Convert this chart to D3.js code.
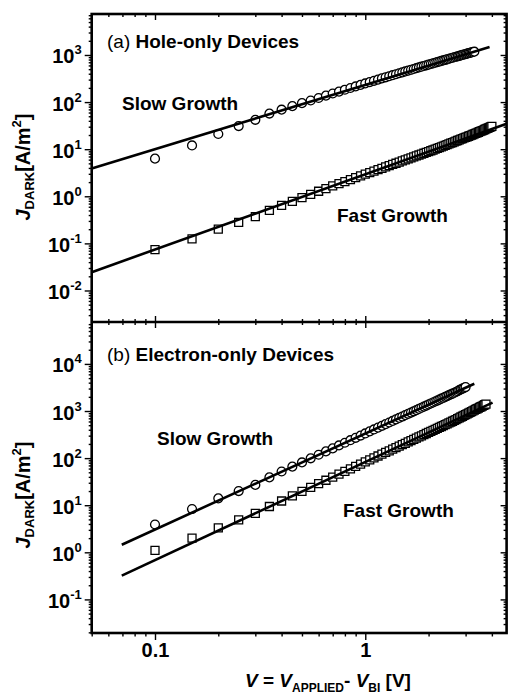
<!DOCTYPE html>
<html>
<head>
<meta charset="utf-8">
<script src="https://cdn.jsdelivr.net/npm/d3@7"></script>
<style>
  body { margin: 0; background: #fff; }
  text { font-family: Arial, "Liberation Sans", sans-serif; font-weight: bold; fill: #000; }
</style>
</head>
<body>
<script>
// bias voltage grid (V = Vapplied - Vbi)
var vGrid = [0.10,0.15,0.20,0.25,0.30,0.35,0.40,0.45,0.50,0.55,0.60,0.65,0.70,0.75,0.80,0.85,0.90,0.95,
  1.00,1.05,1.10,1.15,1.20,1.25,1.30,1.35,1.40,1.45,1.50,1.55,1.60,1.65,1.70,1.75,1.80,1.85,1.90,1.95,
  2.00,2.05,2.10,2.15,2.20,2.25,2.30,2.35,2.40,2.45,2.50,2.55,2.60,2.65,2.70,2.75,2.80,2.85,2.90,2.95,
  3.00,3.05,3.10,3.15,3.20,3.25,3.30,3.35,3.40,3.45,3.50,3.55,3.60,3.65,3.70,3.75,3.80,3.85,3.90,3.95,4.00];

// (a) hole-only, slow growth (circles), A/m^2
var jHoleSlow = [6.3,12,21,31,42,57,69,82,95,108,122,137,152,167,183,199,215,232,
  249,266,283,300,318,336,354,372,390,409,428,447,466,485,504,524,544,564,584,604,
  624,644,664,684,705,726,747,768,789,810,831,852,874,895,916,937,959,980,1002,1024,
  1046,1068,1090,1112,1134,1156,1175];
// (a) hole-only, fast growth (squares)
var jHoleFast = [0.074,0.125,0.20,0.28,0.37,0.50,0.64,0.78,0.94,1.10,1.28,1.46,1.66,1.85,2.05,2.26,2.48,2.70,
  2.94,3.17,3.42,3.67,3.93,4.20,4.47,4.75,5.03,5.32,5.62,5.92,6.23,6.54,6.86,7.19,7.52,7.86,8.20,8.55,
  8.90,9.26,9.62,9.99,10.4,10.8,11.2,11.6,12.0,12.5,12.9,13.4,13.8,14.3,14.8,15.3,15.8,16.3,16.8,17.3,
  17.8,18.3,18.8,19.4,19.9,20.5,21.1,21.7,22.3,22.9,23.5,24.2,24.8,25.5,26.2,26.9,27.6,28.3,29.1,29.8,30.6];
// (b) electron-only, slow growth (circles)
var jElecSlow = [3.9,8.3,14,20,27,39,52,66,81,99,118,139,161,186,212,240,270,301,
  334,369,406,444,485,527,571,616,664,713,764,817,872,928,986,1046,1109,1173,1238,1305,
  1374,1446,1518,1593,1669,1748,1828,1910,1994,2080,2167,2256,2348,2440,2536,2632,2780,2890,3000,3110,
  3230];
// (b) electron-only, fast growth (squares)
var jElecFast = [1.1,2.0,3.3,4.9,6.7,9.4,12.3,15.8,19.6,23.9,28.7,33.9,39.5,45.6,52.2,59.2,66.7,74.6,
  83,91.9,101,111,121,132,143,155,167,180,193,206,221,235,250,266,282,298,315,333,
  351,369,388,408,428,448,469,491,513,535,558,582,606,630,655,690,718,746,775,806,
  840,872,905,938,972,1007,1043,1080,1117,1154,1194,1233,1274,1315,1358,1400];

// fitted power-law lines, two ends each
var fitHoleSlowV = [0.05, 3.9],    fitHoleSlowJ = [3.9, 1480];
var fitHoleFastV = [0.05, 4.7],    fitHoleFastJ = [0.0245, 34.7];
var fitElecSlowV = [0.0695, 3.3],  fitElecSlowJ = [1.45, 3800];
var fitElecFastV = [0.0695, 4.03], fitElecFastJ = [0.32, 1510];

var xMajor = [0.1, 1];
var xMinor = [0.05,0.06,0.07,0.08,0.09,0.2,0.3,0.4,0.5,0.6,0.7,0.8,0.9,2,3,4];
var xLabels = ["0.1", "1"];
var yMajorA = [-2,-1,0,1,2,3];
var yMajorB = [-1,0,1,2,3,4];

var W = 512, H = 696;
var L = 91.7, R = 506.6, T = 14, MID = 322, B = 633;

var svg = d3.select("body").append("svg")
    .attr("width", W)
    .attr("height", H);

var x = d3.scaleLog().domain([0.05, 4.7]).range([L, R]);

function minorsFor(domain) {
  var out = [];
  for (var e = -4; e <= 6; e++)
    for (var m = 2; m <= 9; m++) {
      var v = m * Math.pow(10, e);
      if (v > domain[0] && v < domain[1]) out.push(v);
    }
  return out;
}

function tickStyle(g) {
  g.select(".domain").remove();
  g.selectAll(".tick line").attr("stroke", "#000").attr("stroke-width", 1.4);
}

function panel(top, bottom, domain, majors, series, fits, texts) {
  var y = d3.scaleLog().domain(domain).range([bottom, top]);
  var majorVals = majors.map(function(e) { return Math.pow(10, e); });
  var minorVals = minorsFor(domain);

  // left axis (ticks out) with 10^n labels
  svg.append("g").attr("transform", "translate(" + L + ",0)")
    .call(d3.axisLeft(y).tickValues(minorVals).tickSize(3).tickFormat("")).call(tickStyle);
  var la = svg.append("g").attr("transform", "translate(" + L + ",0)")
    .call(d3.axisLeft(y).tickValues(majorVals).tickSize(7).tickFormat("")).call(tickStyle);
  la.selectAll(".tick").append("text")
    .attr("x", -10).attr("y", 8)
    .attr("text-anchor", "end")
    .style("font-size", "20px")
    .each(function(d) {
      var t = d3.select(this);
      t.append("tspan").text("10");
      t.append("tspan").attr("dy", -9).style("font-size", "13px")
        .text(String(Math.round(Math.log10(d))));
    });

  // right axis (ticks in)
  svg.append("g").attr("transform", "translate(" + R + ",0)")
    .call(d3.axisRight(y).tickValues(minorVals).tickSize(-3).tickFormat("")).call(tickStyle);
  svg.append("g").attr("transform", "translate(" + R + ",0)")
    .call(d3.axisRight(y).tickValues(majorVals).tickSize(-6).tickFormat("")).call(tickStyle);

  var sym = { circle: d3.symbol(d3.symbolCircle, 62), square: d3.symbol(d3.symbolSquare, 64) };
  series.forEach(function(s) {
    var pts = d3.zip(s.v, s.j);
    svg.append("g").selectAll("path").data(pts).enter().append("path")
      .attr("transform", function(d) { return "translate(" + x(d[0]) + "," + y(d[1]) + ")"; })
      .attr("d", sym[s.shape])
      .attr("fill", "#fff")
      .attr("stroke", "#000")
      .attr("stroke-width", 1.3);
  });

  var line = d3.line().x(function(d) { return x(d[0]); }).y(function(d) { return y(d[1]); });
  fits.forEach(function(f) {
    svg.append("path")
      .attr("d", line(d3.zip(f.v, f.j)))
      .attr("fill", "none")
      .attr("stroke", "#000")
      .attr("stroke-width", 2.6);
  });

  texts.forEach(function(t) {
    var el = svg.append("text").attr("x", t.x).attr("y", t.y).style("font-size", "19px");
    if (t.pre) el.append("tspan").style("font-weight", "normal").text(t.pre);
    el.append("tspan").text(t.s);
  });
  return y;
}

panel(T, MID, [Math.pow(10, -2.669), Math.pow(10, 3.870)], yMajorA,
  [{ v: vGrid.slice(0, jHoleSlow.length), j: jHoleSlow, shape: "circle" },
   { v: vGrid.slice(0, jHoleFast.length), j: jHoleFast, shape: "square" }],
  [{ v: fitHoleSlowV, j: fitHoleSlowJ }, { v: fitHoleFastV, j: fitHoleFastJ }],
  [{ x: 107, y: 48, pre: "(a) ", s: "Hole-only Devices" },
   { x: 122, y: 110, s: "Slow Growth" },
   { x: 337, y: 222, s: "Fast Growth" }]);

panel(MID, B, [Math.pow(10, -1.713), Math.pow(10, 4.890)], yMajorB,
  [{ v: vGrid.slice(0, jElecSlow.length), j: jElecSlow, shape: "circle" },
   { v: vGrid.slice(0, jElecFast.length), j: jElecFast, shape: "square" }],
  [{ v: fitElecSlowV, j: fitElecSlowJ }, { v: fitElecFastV, j: fitElecFastJ }],
  [{ x: 107, y: 361, pre: "(b) ", s: "Electron-only Devices" },
   { x: 157, y: 445, s: "Slow Growth" },
   { x: 343, y: 517, s: "Fast Growth" }]);

// x axes: top (in), middle (both ways), bottom (out, labelled)
function xAxis(gen, yPos, majorLen, minorLen) {
  svg.append("g").attr("transform", "translate(0," + yPos + ")")
    .call(gen(x).tickValues(xMinor).tickSize(minorLen).tickFormat("")).call(tickStyle);
  return svg.append("g").attr("transform", "translate(0," + yPos + ")")
    .call(gen(x).tickValues(xMajor).tickSize(majorLen).tickFormat("")).call(tickStyle);
}
xAxis(d3.axisTop, T, -6, -3);
xAxis(d3.axisTop, MID, 6, 3);
xAxis(d3.axisBottom, MID, 6, 3);
var bx = xAxis(d3.axisBottom, B, 7, 3.5);
bx.selectAll(".tick").append("text")
  .attr("y", 24).attr("text-anchor", "middle")
  .style("font-size", "20px")
  .text(function(d, i) { return xLabels[i]; });

// frame
svg.append("rect").attr("x", L).attr("y", T).attr("width", R - L).attr("height", B - T)
  .attr("fill", "none").attr("stroke", "#000").attr("stroke-width", 2.6);
svg.append("line").attr("x1", L).attr("x2", R).attr("y1", MID).attr("y2", MID)
  .attr("stroke", "#000").attr("stroke-width", 2.6);

// y titles
[167, 495].forEach(function(cy) {
  var t = svg.append("text")
    .attr("transform", "translate(30," + cy + ") rotate(-90)")
    .attr("text-anchor", "middle")
    .style("font-size", "20px");
  t.append("tspan").style("font-style", "italic").text("J");
  t.append("tspan").attr("dy", 4).style("font-size", "13px").text("DARK");
  t.append("tspan").attr("dy", -4).text("[A/m");
  t.append("tspan").attr("dy", -9).style("font-size", "13px").text("2");
  t.append("tspan").attr("dy", 9).text("]");
});

// x title
var xt = svg.append("text").attr("x", 245).attr("y", 687).style("font-size", "19px");
xt.append("tspan").style("font-style", "italic").text("V");
xt.append("tspan").text(" = ");
xt.append("tspan").style("font-style", "italic").text("V");
xt.append("tspan").attr("dy", 5).style("font-size", "12px").text("APPLIED");
xt.append("tspan").attr("dy", -5).text("- ");
xt.append("tspan").style("font-style", "italic").text("V");
xt.append("tspan").attr("dy", 5).style("font-size", "12px").text("BI");
xt.append("tspan").attr("dy", -5).text("  [V]");
</script>
</body>
</html>
